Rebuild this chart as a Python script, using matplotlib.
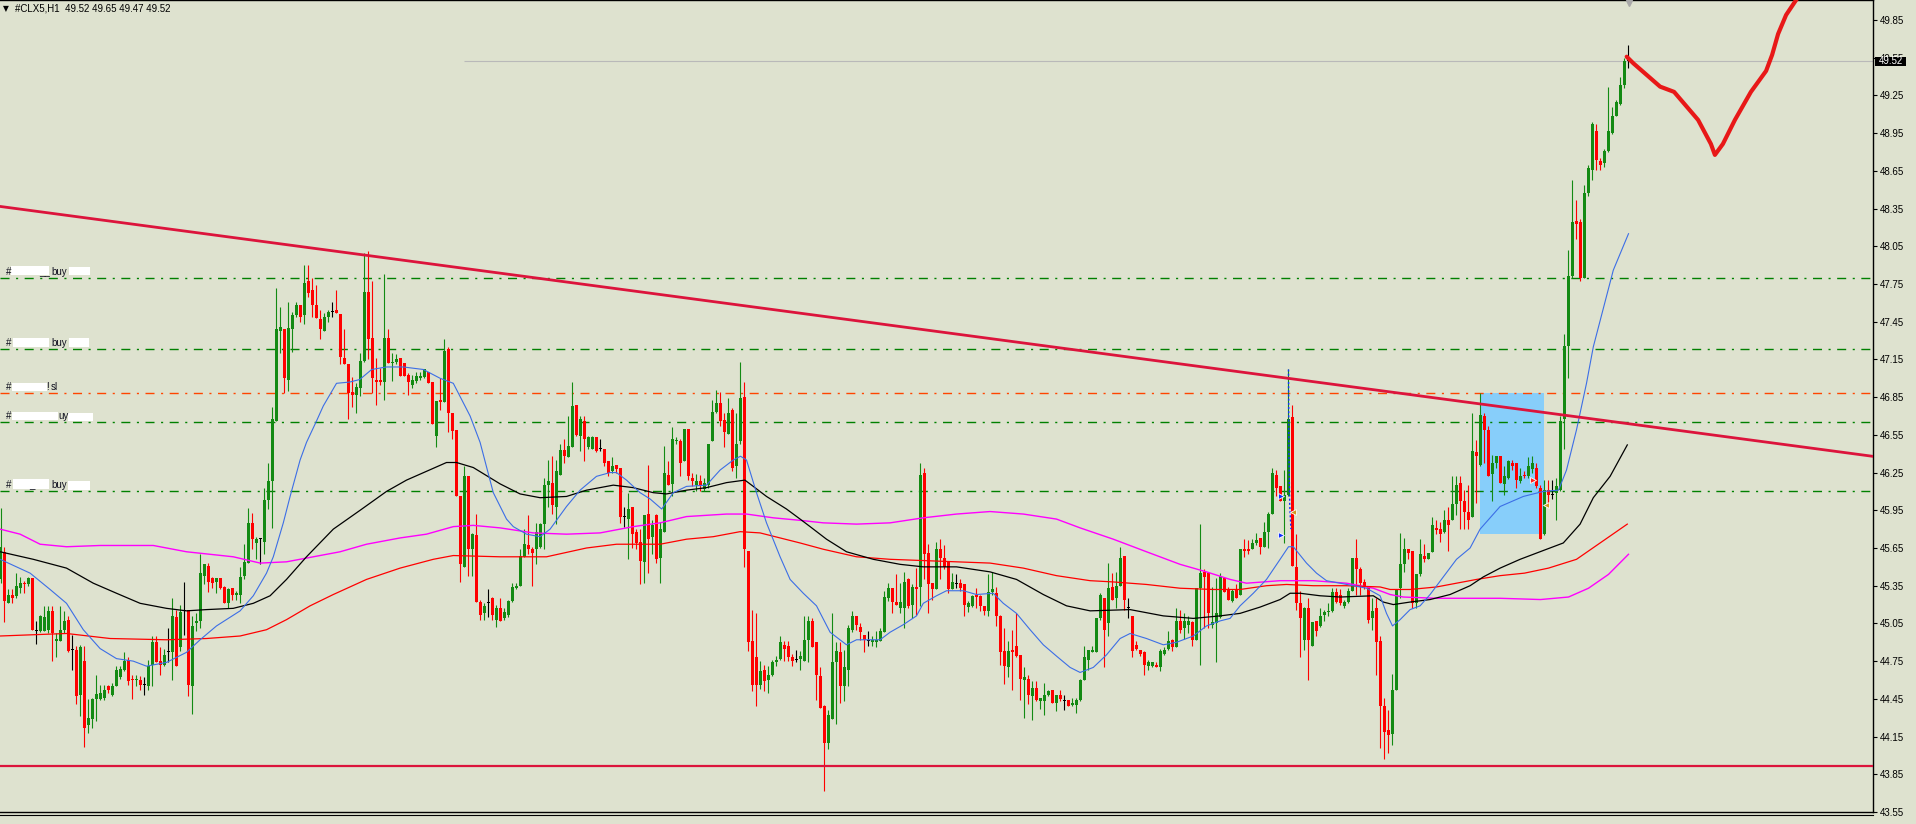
import numpy as np
import matplotlib
matplotlib.use("Agg")
import matplotlib.pyplot as plt
import matplotlib.transforms as mtransforms
from matplotlib.patches import Rectangle

# ---- H1 candles of #CLX5 (index 0 = left edge) ----
opens = [
    45.40, 45.62, 45.21, 45.28, 45.27, 45.33, 45.37, 45.36, 45.41, 44.99,
    44.99, 44.99, 45.00, 45.15, 44.91, 44.91, 45.00, 45.08, 44.84, 44.84,
    44.48, 44.75, 44.24, 44.29, 44.45, 44.45, 44.46, 44.55, 44.48, 44.55,
    44.62, 44.68, 44.76, 44.61, 44.60, 44.60, 44.56, 44.55, 44.72, 44.90,
    44.75, 44.72, 44.82, 44.82, 45.10, 44.86, 45.15, 45.16, 44.55, 45.05,
    45.07, 45.43, 45.51, 45.41, 45.38, 45.41, 45.34, 45.21, 45.33, 45.28,
    45.28, 45.43, 45.53, 45.85, 45.69, 45.72, 45.70, 46.03, 46.18, 46.66,
    47.38, 47.39, 46.99, 47.39, 47.50, 47.58, 47.50, 47.77, 47.70, 47.58,
    47.47, 47.38, 47.49, 47.53, 47.54, 47.51, 47.16, 47.11, 46.89, 46.87,
    46.92, 47.14, 47.69, 47.32, 46.99, 46.99, 46.97, 47.32, 47.12, 47.13,
    47.16, 47.12, 47.03, 46.95, 46.98, 47.00, 47.01, 47.05, 46.97, 46.54,
    46.83, 46.81, 47.23, 46.72, 46.59, 46.06, 45.50, 46.22, 45.64, 45.75,
    45.22, 45.13, 45.21, 45.25, 45.08, 45.17, 45.09, 45.12, 45.23, 45.33,
    45.35, 45.58, 45.67, 45.64, 45.64, 45.66, 45.84, 46.15, 46.17, 45.98,
    46.23, 46.43, 46.37, 46.45, 46.79, 46.54, 46.66, 46.45, 46.44, 46.53,
    46.44, 46.44, 46.34, 46.26, 46.31, 46.29, 45.90, 45.88, 45.98, 45.78,
    45.70, 45.54, 45.92, 45.74, 45.91, 45.57, 45.78, 46.23, 46.16, 46.50,
    46.50, 46.34, 46.60, 46.21, 46.15, 46.18, 46.12, 46.15, 46.50, 46.73,
    46.80, 46.67, 46.56, 46.75, 46.30, 46.50, 46.85, 45.63, 44.91, 44.78,
    44.56, 44.68, 44.60, 44.64, 44.74, 44.77, 44.88, 44.87, 44.78, 44.76,
    44.77, 44.75, 44.92, 45.07, 44.90, 44.63, 44.39, 44.10, 44.29, 44.74,
    44.82, 44.55, 44.68, 45.00, 45.11, 45.02, 44.96, 44.91, 44.90, 44.90,
    44.91, 44.98, 45.25, 45.33, 45.22, 45.17, 45.17, 45.40, 45.20, 45.34,
    45.34, 46.25, 45.61, 45.37, 45.32, 45.64, 45.57, 45.54, 45.32, 45.36,
    45.37, 45.36, 45.18, 45.19, 45.28, 45.27, 45.19, 45.15, 45.30, 45.29,
    45.11, 44.83, 44.70, 44.84, 44.87, 44.80, 44.60, 44.61, 44.47, 44.54,
    44.43, 44.43, 44.48, 44.52, 44.42, 44.48, 44.43, 44.44, 44.40, 44.40,
    44.44, 44.60, 44.76, 44.82, 44.82, 45.09, 45.25, 45.05, 45.34, 45.25,
    45.35, 45.59, 45.17, 45.11, 44.88, 44.84, 44.82, 44.71, 44.71, 44.72,
    44.70, 44.81, 44.85, 44.92, 44.86, 45.07, 45.01, 45.04, 45.06, 44.92,
    45.33, 45.46, 45.45, 45.04, 45.05, 45.10, 45.41, 45.32, 45.23, 45.32,
    45.28, 45.64, 45.64, 45.64, 45.69, 45.73, 45.66, 45.78, 45.92, 46.23,
    46.14, 46.02, 46.07, 46.69, 45.50, 45.21, 44.92, 45.17, 44.87, 45.07,
    45.03, 45.12, 45.14, 45.15, 45.30, 45.28, 45.19, 45.22, 45.31, 45.57,
    45.48, 45.38, 45.35, 45.09, 45.17, 44.91, 44.39, 44.20, 44.17, 44.52,
    45.33, 45.52, 45.64, 45.63, 45.21, 45.44, 45.59, 45.56, 45.62, 45.81,
    45.80, 45.78, 45.87, 45.87, 46.00, 46.17, 46.02, 45.94, 45.90, 46.41,
    46.31, 46.70, 46.59, 46.24, 46.33, 46.38, 46.16, 46.21, 46.33, 46.33,
    46.18, 46.23, 46.22, 46.28, 46.29, 46.13, 45.76, 46.11, 46.07, 46.09,
    46.11, 46.68, 47.26, 47.81, 48.25, 48.24, 47.80, 48.47, 48.66, 48.97,
    48.73, 48.71, 48.81, 48.95, 49.09, 49.18, 49.33, 49.52,
]
highs = [
    45.97, 45.66, 45.32, 45.32, 45.45, 45.42, 45.39, 45.42, 45.41, 45.07,
    45.12, 45.19, 45.19, 45.19, 44.97, 45.19, 45.15, 45.11, 44.96, 44.87,
    44.88, 44.87, 44.45, 44.46, 44.64, 44.56, 44.56, 44.56, 44.58, 44.71,
    44.71, 44.82, 44.78, 44.64, 44.64, 44.63, 44.62, 44.76, 44.95, 44.95,
    44.86, 44.85, 45.01, 45.25, 45.16, 45.20, 45.38, 45.16, 45.11, 45.13,
    45.60, 45.52, 45.53, 45.42, 45.41, 45.41, 45.35, 45.33, 45.33, 45.31,
    45.50, 45.68, 45.97, 45.93, 45.74, 45.73, 46.13, 46.33, 46.77, 47.72,
    47.57, 47.39, 47.61, 47.53, 47.61, 47.58, 47.90, 47.90, 47.80, 47.74,
    47.54, 47.52, 47.54, 47.61, 47.70, 47.51, 47.39, 47.11, 47.01, 46.96,
    47.20, 48.00, 48.01, 47.77, 47.16, 47.08, 47.83, 47.39, 47.20, 47.19,
    47.16, 47.12, 47.04, 47.03, 47.05, 47.05, 47.07, 47.05, 46.97, 46.82,
    47.00, 47.31, 47.25, 46.72, 46.59, 46.06, 46.30, 46.22, 45.77, 45.92,
    45.24, 45.21, 45.32, 45.26, 45.20, 45.25, 45.17, 45.24, 45.37, 45.37,
    45.64, 45.80, 45.91, 45.66, 45.85, 45.85, 46.21, 46.35, 46.38, 46.35,
    46.48, 46.52, 46.70, 46.97, 46.79, 46.70, 46.70, 46.54, 46.54, 46.53,
    46.52, 46.44, 46.34, 46.37, 46.31, 46.29, 45.98, 46.09, 45.98, 45.80,
    45.80, 45.91, 46.31, 45.87, 45.92, 45.86, 46.46, 46.34, 46.61, 46.53,
    46.52, 46.60, 46.60, 46.25, 46.24, 46.23, 46.21, 46.48, 46.83, 46.91,
    46.89, 46.72, 46.84, 46.76, 46.72, 47.13, 46.97, 45.63, 45.16, 45.13,
    44.75, 44.72, 44.71, 44.76, 44.79, 44.95, 44.91, 44.91, 44.81, 44.84,
    44.83, 45.11, 45.11, 45.09, 44.90, 44.70, 44.40, 44.36, 45.13, 44.90,
    44.90, 44.84, 45.04, 45.15, 45.11, 45.05, 44.96, 44.99, 44.95, 44.99,
    45.01, 45.31, 45.37, 45.33, 45.44, 45.37, 45.46, 45.41, 45.36, 45.49,
    46.33, 46.29, 45.68, 45.37, 45.70, 45.72, 45.67, 45.54, 45.45, 45.44,
    45.40, 45.36, 45.23, 45.28, 45.33, 45.28, 45.19, 45.44, 45.46, 45.34,
    45.12, 45.01, 44.91, 45.00, 45.13, 44.80, 44.70, 44.64, 44.59, 44.59,
    44.46, 44.58, 44.52, 44.52, 44.48, 44.52, 44.48, 44.44, 44.46, 44.46,
    44.61, 44.87, 44.84, 44.87, 45.09, 45.29, 45.25, 45.53, 45.45, 45.46,
    45.66, 45.59, 45.25, 45.11, 44.91, 44.84, 44.83, 44.76, 44.74, 44.74,
    44.85, 44.86, 44.99, 44.93, 45.17, 45.16, 45.13, 45.11, 45.07, 45.33,
    45.84, 45.48, 45.45, 45.34, 45.41, 45.45, 45.41, 45.34, 45.32, 45.36,
    45.64, 45.72, 45.71, 45.72, 45.77, 45.73, 45.86, 45.94, 46.29, 46.27,
    46.14, 46.27, 47.07, 46.79, 45.76, 45.31, 45.18, 45.25, 45.06, 45.07,
    45.17, 45.16, 45.21, 45.33, 45.33, 45.32, 45.24, 45.33, 45.57, 45.72,
    45.50, 45.40, 45.35, 45.25, 45.25, 44.95, 44.46, 44.36, 44.65, 45.32,
    45.77, 45.73, 45.64, 45.63, 45.44, 45.72, 45.68, 45.61, 45.90, 45.87,
    45.86, 45.95, 45.98, 46.22, 46.22, 46.22, 46.11, 46.15, 46.72, 46.51,
    46.88, 46.72, 46.62, 46.39, 46.38, 46.38, 46.30, 46.35, 46.35, 46.33,
    46.29, 46.26, 46.37, 46.38, 46.33, 46.15, 46.19, 46.19, 46.19, 46.21,
    46.70, 47.35, 48.02, 48.58, 48.42, 48.27, 48.54, 48.70, 49.04, 49.02,
    48.75, 48.82, 49.32, 49.16, 49.21, 49.40, 49.55, 49.65,
]
lows = [
    45.37, 45.06, 45.21, 45.21, 45.25, 45.29, 45.29, 45.35, 45.00, 44.89,
    44.98, 44.99, 44.97, 44.75, 44.78, 44.91, 44.97, 44.82, 44.68, 44.41,
    44.31, 44.07, 44.18, 44.22, 44.27, 44.44, 44.44, 44.50, 44.47, 44.55,
    44.61, 44.67, 44.56, 44.45, 44.55, 44.52, 44.48, 44.52, 44.55, 44.74,
    44.64, 44.71, 44.74, 44.60, 44.71, 44.83, 44.96, 44.47, 44.33, 44.99,
    45.01, 45.36, 45.30, 45.33, 45.29, 45.32, 45.21, 45.17, 45.24, 45.24,
    45.21, 45.40, 45.53, 45.64, 45.56, 45.52, 45.60, 45.96, 45.81, 46.66,
    47.20, 46.88, 46.90, 47.21, 47.49, 47.45, 47.43, 47.65, 47.49, 47.48,
    47.31, 47.38, 47.45, 47.49, 47.52, 47.11, 47.11, 46.68, 46.77, 46.72,
    46.86, 47.13, 47.15, 46.88, 46.79, 46.95, 46.83, 47.12, 46.98, 47.11,
    47.02, 47.02, 46.87, 46.92, 46.96, 46.99, 47.00, 46.96, 46.64, 46.45,
    46.75, 46.81, 46.57, 46.52, 46.06, 45.38, 45.50, 45.43, 45.43, 45.22,
    45.08, 45.08, 45.10, 45.08, 45.02, 45.07, 45.08, 45.10, 45.22, 45.32,
    45.35, 45.58, 45.60, 45.35, 45.52, 45.65, 45.64, 45.98, 45.92, 45.84,
    46.23, 46.33, 46.37, 46.45, 46.54, 46.42, 46.34, 46.44, 46.44, 46.41,
    46.42, 46.30, 46.22, 46.25, 46.25, 45.85, 45.82, 45.56, 45.65, 45.64,
    45.36, 45.37, 45.45, 45.60, 45.53, 45.37, 45.78, 46.15, 46.06, 46.48,
    46.22, 46.34, 46.19, 46.14, 46.10, 46.10, 46.10, 46.13, 46.50, 46.72,
    46.62, 46.45, 46.56, 46.26, 46.21, 46.48, 45.50, 44.83, 44.51, 44.39,
    44.53, 44.51, 44.50, 44.63, 44.71, 44.76, 44.75, 44.75, 44.71, 44.74,
    44.68, 44.75, 44.74, 44.86, 44.44, 44.38, 43.72, 44.05, 44.29, 44.25,
    44.42, 44.43, 44.55, 44.98, 45.00, 44.92, 44.82, 44.87, 44.87, 44.86,
    44.91, 44.98, 45.23, 45.13, 45.20, 45.13, 45.01, 45.17, 45.09, 45.12,
    45.19, 45.40, 45.13, 45.24, 45.32, 45.40, 45.48, 45.29, 45.32, 45.33,
    45.31, 45.11, 45.14, 45.18, 45.17, 45.15, 45.12, 45.11, 45.28, 45.03,
    44.72, 44.57, 44.62, 44.52, 44.78, 44.44, 44.30, 44.41, 44.28, 44.43,
    44.37, 44.32, 44.47, 44.42, 44.35, 44.43, 44.36, 44.39, 44.39, 44.34,
    44.43, 44.60, 44.68, 44.82, 44.82, 45.08, 44.70, 44.95, 45.24, 45.17,
    45.35, 45.16, 45.09, 44.78, 44.84, 44.79, 44.64, 44.68, 44.70, 44.70,
    44.67, 44.80, 44.84, 44.83, 44.86, 44.97, 44.93, 44.97, 44.87, 44.92,
    44.72, 45.01, 45.01, 45.01, 44.74, 45.09, 45.30, 45.24, 45.22, 45.25,
    45.28, 45.58, 45.60, 45.64, 45.67, 45.60, 45.66, 45.65, 45.92, 46.06,
    46.02, 45.69, 46.06, 45.51, 45.16, 44.78, 44.84, 44.60, 44.87, 44.95,
    45.02, 45.07, 45.11, 45.14, 45.21, 45.20, 45.17, 45.21, 45.31, 45.28,
    45.28, 45.32, 45.05, 45.00, 44.64, 44.06, 43.97, 44.02, 44.08, 44.52,
    45.25, 45.46, 45.56, 45.17, 45.17, 45.43, 45.54, 45.56, 45.62, 45.76,
    45.70, 45.77, 45.63, 45.87, 45.91, 45.80, 45.80, 45.80, 45.90, 46.01,
    46.30, 46.33, 46.22, 46.02, 46.29, 46.17, 46.07, 46.20, 46.27, 46.13,
    46.17, 46.21, 46.21, 46.25, 46.13, 45.72, 45.75, 46.00, 46.04, 45.87,
    46.10, 46.44, 47.00, 47.80, 48.11, 47.77, 47.80, 48.45, 48.58, 48.66,
    48.66, 48.68, 48.80, 48.94, 49.09, 49.17, 49.31, 49.47,
]
closes = [
    45.66, 45.23, 45.28, 45.25, 45.35, 45.37, 45.36, 45.41, 45.00, 44.99,
    45.11, 45.10, 45.15, 44.97, 44.93, 45.00, 45.07, 44.83, 44.84, 44.47,
    44.86, 44.22, 44.30, 44.45, 44.49, 44.50, 44.52, 44.52, 44.55, 44.68,
    44.69, 44.75, 44.59, 44.60, 44.61, 44.56, 44.56, 44.71, 44.90, 44.74,
    44.72, 44.80, 44.82, 45.11, 44.71, 45.14, 45.15, 44.56, 45.03, 45.07,
    45.45, 45.52, 45.38, 45.37, 45.41, 45.33, 45.21, 45.32, 45.28, 45.29,
    45.42, 45.54, 45.85, 45.72, 45.72, 45.72, 46.03, 46.18, 46.68, 47.39,
    47.41, 47.00, 47.40, 47.50, 47.58, 47.49, 47.76, 47.68, 47.58, 47.48,
    47.39, 47.49, 47.53, 47.53, 47.52, 47.17, 47.11, 46.88, 46.87, 46.93,
    47.14, 47.69, 47.31, 47.00, 46.97, 46.97, 47.32, 47.12, 47.13, 47.15,
    47.02, 47.02, 46.97, 46.99, 47.02, 47.02, 47.07, 46.96, 46.64, 46.82,
    46.81, 47.22, 46.72, 46.58, 46.06, 45.52, 46.22, 45.64, 45.76, 45.22,
    45.12, 45.19, 45.21, 45.12, 45.17, 45.07, 45.14, 45.23, 45.34, 45.35,
    45.59, 45.68, 45.64, 45.61, 45.78, 45.84, 46.15, 46.18, 45.99, 46.26,
    46.43, 46.38, 46.46, 46.78, 46.55, 46.68, 46.52, 46.53, 46.53, 46.42,
    46.44, 46.33, 46.25, 46.30, 46.28, 45.90, 45.90, 45.96, 45.76, 45.69,
    45.55, 45.91, 45.72, 45.83, 45.56, 45.80, 46.25, 46.15, 46.52, 46.51,
    46.33, 46.60, 46.22, 46.18, 46.18, 46.14, 46.17, 46.48, 46.73, 46.80,
    46.66, 46.57, 46.72, 46.29, 46.48, 46.84, 45.64, 44.90, 44.56, 44.56,
    44.67, 44.59, 44.64, 44.74, 44.76, 44.90, 44.85, 44.78, 44.75, 44.76,
    44.79, 44.92, 45.07, 44.86, 44.64, 44.38, 44.10, 44.32, 44.74, 44.83,
    44.55, 44.70, 45.01, 45.11, 45.04, 44.98, 44.92, 44.91, 44.92, 44.92,
    44.99, 45.26, 45.33, 45.22, 45.20, 45.22, 45.38, 45.19, 45.34, 45.32,
    46.23, 45.60, 45.36, 45.32, 45.64, 45.57, 45.50, 45.32, 45.38, 45.36,
    45.33, 45.20, 45.21, 45.27, 45.26, 45.19, 45.15, 45.30, 45.32, 45.11,
    44.82, 44.71, 44.83, 44.82, 44.79, 44.61, 44.62, 44.48, 44.54, 44.44,
    44.46, 44.48, 44.51, 44.42, 44.48, 44.45, 44.43, 44.39, 44.42, 44.44,
    44.60, 44.78, 44.84, 44.84, 45.09, 45.28, 45.00, 45.33, 45.24, 45.35,
    45.57, 45.24, 45.17, 44.83, 44.85, 44.81, 44.72, 44.74, 44.74, 44.70,
    44.83, 44.84, 44.91, 44.86, 45.07, 45.00, 45.07, 45.07, 44.92, 45.33,
    45.45, 45.42, 45.13, 45.06, 45.13, 45.43, 45.30, 45.24, 45.31, 45.25,
    45.64, 45.63, 45.63, 45.69, 45.71, 45.66, 45.78, 45.92, 46.25, 46.13,
    46.02, 46.07, 46.68, 45.51, 45.21, 45.09, 45.17, 44.92, 45.06, 44.99,
    45.11, 45.14, 45.15, 45.30, 45.22, 45.21, 45.22, 45.31, 45.57, 45.48,
    45.37, 45.35, 45.08, 45.15, 44.90, 44.39, 44.19, 44.16, 44.52, 45.32,
    45.52, 45.64, 45.61, 45.21, 45.44, 45.60, 45.56, 45.61, 45.83, 45.79,
    45.76, 45.87, 45.83, 46.00, 46.15, 46.02, 45.94, 45.87, 46.42, 46.38,
    46.71, 46.59, 46.22, 46.33, 46.38, 46.17, 46.22, 46.34, 46.30, 46.19,
    46.22, 46.22, 46.30, 46.33, 46.14, 45.72, 46.11, 46.07, 46.07, 46.14,
    46.66, 47.26, 47.81, 48.24, 48.23, 47.80, 48.47, 48.67, 49.02, 48.74,
    48.70, 48.81, 48.97, 49.09, 49.20, 49.33, 49.52, 49.52,
]

# ---- moving averages: (bar index, price) ----
blue_ma = [
    (-0.1, 45.56), (7.4, 45.45), (12.4, 45.32), (16.5, 45.21), (20.7, 45.00),
    (24.9, 44.85), (29.0, 44.77), (33.2, 44.75), (36.5, 44.71), (41.5, 44.74),
    (46.5, 44.82), (49.9, 44.92), (54.0, 45.03), (59.9, 45.15), (63.2, 45.27),
    (66.5, 45.45), (68.2, 45.58), (70.7, 45.85), (72.4, 46.06), (74.9, 46.35),
    (76.5, 46.49), (79.0, 46.66), (80.7, 46.78), (84.0, 46.96), (87.3, 46.97),
    (89.8, 46.99), (92.8, 47.07), (96.5, 47.09), (100.7, 47.09), (105.7, 47.07),
    (109.9, 47.00), (113.2, 46.96), (117.4, 46.70), (119.9, 46.49), (123.2, 46.09),
    (126.5, 45.88), (128.2, 45.82), (131.5, 45.76), (134.9, 45.74), (137.4, 45.80),
    (141.5, 45.98), (144.9, 46.11), (149.0, 46.22), (152.4, 46.25), (154.0, 46.25),
    (156.5, 46.19), (159.9, 46.09), (162.4, 46.04), (165.3, 45.96), (168.2, 46.09),
    (171.5, 46.14), (176.5, 46.15), (179.9, 46.27), (183.2, 46.35), (185.0, 46.38),
    (186.5, 46.35), (189.0, 46.09), (191.5, 45.85), (194.9, 45.58), (197.4, 45.40),
    (200.7, 45.29), (204.0, 45.19), (207.4, 44.98), (211.5, 44.88), (214.0, 44.92),
    (219.9, 44.92), (222.4, 44.98), (225.7, 45.04), (229.0, 45.11), (230.7, 45.21),
    (234.0, 45.27), (236.5, 45.31), (240.7, 45.31), (244.0, 45.28), (248.2, 45.29),
    (250.7, 45.21), (254.0, 45.13), (257.4, 45.00), (260.7, 44.88), (264.0, 44.79),
    (267.4, 44.70), (269.9, 44.66), (273.2, 44.70), (276.5, 44.80), (279.9, 44.93),
    (282.4, 44.97), (286.5, 44.93), (290.7, 44.88), (294.0, 44.90), (298.2, 44.95),
    (301.5, 45.03), (304.9, 45.07), (307.4, 45.09), (309.9, 45.19), (313.2, 45.29),
    (316.5, 45.40), (319.9, 45.56), (322.0, 45.66), (323.2, 45.66), (326.5, 45.53),
    (329.0, 45.45), (331.5, 45.39), (334.9, 45.37), (338.2, 45.35), (341.5, 45.33),
    (344.9, 45.27), (346.5, 45.13), (348.0, 45.03), (349.9, 45.08), (352.4, 45.16),
    (354.9, 45.19), (357.4, 45.28), (360.7, 45.42), (364.0, 45.56), (367.4, 45.65),
    (369.9, 45.80), (374.9, 45.98), (380.7, 46.06), (385.7, 46.10), (389.5, 46.11),
    (391.5, 46.27), (394.0, 46.59), (396.5, 46.96), (398.2, 47.25), (403.2, 47.86),
    (407.0, 48.15),
]
black_ma = [
    (-0.1, 45.62), (8.2, 45.56), (16.5, 45.49), (23.2, 45.37), (29.0, 45.29),
    (34.9, 45.21), (41.5, 45.17), (46.5, 45.15), (51.5, 45.16), (58.2, 45.17),
    (63.2, 45.21), (67.4, 45.27), (71.5, 45.40), (76.5, 45.58), (83.2, 45.80),
    (89.9, 45.95), (96.5, 46.10), (101.5, 46.19), (106.5, 46.26), (111.5, 46.33),
    (114.0, 46.33), (118.2, 46.29), (124.9, 46.16), (129.9, 46.08), (134.9, 46.05),
    (141.5, 46.06), (146.5, 46.11), (153.2, 46.15), (158.2, 46.13), (163.2, 46.09),
    (166.5, 46.08), (171.5, 46.11), (176.5, 46.13), (181.5, 46.17), (186.1, 46.19),
    (188.2, 46.14), (191.5, 46.06), (196.5, 45.96), (199.9, 45.88), (202.4, 45.82),
    (206.5, 45.72), (211.5, 45.62), (218.2, 45.56), (224.9, 45.52), (230.7, 45.50),
    (239.0, 45.50), (247.4, 45.46), (254.0, 45.40), (260.7, 45.28), (266.5, 45.19),
    (272.4, 45.15), (282.4, 45.16), (290.7, 45.11), (298.2, 45.09), (304.9, 45.11),
    (309.9, 45.13), (314.9, 45.18), (319.9, 45.24), (322.4, 45.29), (324.9, 45.29),
    (329.9, 45.27), (334.9, 45.26), (343.2, 45.27), (345.7, 45.22), (348.2, 45.20),
    (352.4, 45.22), (357.4, 45.24), (362.4, 45.28), (367.4, 45.35), (370.7, 45.42),
    (374.9, 45.49), (379.9, 45.56), (385.7, 45.63), (390.7, 45.69), (394.9, 45.84),
    (398.2, 46.05), (402.4, 46.22), (406.7, 46.47),
]
red_ma = [
    (-0.1, 44.95), (16.5, 44.97), (27.4, 44.93), (41.5, 44.92), (51.5, 44.93),
    (59.9, 44.95), (66.5, 45.00), (71.5, 45.08), (77.4, 45.19), (83.2, 45.28),
    (91.5, 45.40), (99.9, 45.49), (108.2, 45.56), (113.2, 45.59), (124.9, 45.58),
    (136.5, 45.58), (146.5, 45.65), (154.0, 45.68), (164.9, 45.68), (171.5, 45.72),
    (178.2, 45.74), (184.9, 45.78), (189.9, 45.77), (194.9, 45.73), (199.9, 45.69),
    (205.7, 45.64), (214.0, 45.58), (222.4, 45.56), (230.7, 45.55), (239.0, 45.54),
    (247.4, 45.53), (255.7, 45.49), (264.0, 45.43), (272.4, 45.39), (278.2, 45.38),
    (286.5, 45.36), (294.9, 45.33), (303.2, 45.32), (309.9, 45.32), (316.5, 45.35),
    (321.5, 45.36), (328.2, 45.35), (336.5, 45.35), (344.9, 45.34), (347.4, 45.32),
    (352.4, 45.32), (359.0, 45.34), (364.0, 45.37), (369.0, 45.40), (374.9, 45.43),
    (381.0, 45.45), (387.0, 45.49), (394.0, 45.56), (399.9, 45.69), (406.7, 45.84),
]
magenta_ma = [
    (-0.1, 45.80), (4.9, 45.76), (9.9, 45.68), (16.5, 45.66), (24.9, 45.67),
    (33.2, 45.67), (38.2, 45.67), (46.5, 45.62), (58.2, 45.58), (64.9, 45.53),
    (71.5, 45.54), (78.2, 45.58), (84.9, 45.62), (91.5, 45.68), (99.9, 45.73),
    (106.5, 45.76), (113.2, 45.82), (118.2, 45.83), (124.9, 45.81), (133.2, 45.77),
    (141.5, 45.76), (149.9, 45.77), (158.2, 45.82), (164.9, 45.85), (171.5, 45.90),
    (181.5, 45.92), (186.5, 45.92), (193.2, 45.89), (199.9, 45.87), (205.7, 45.85),
    (214.0, 45.84), (222.4, 45.85), (230.7, 45.89), (239.0, 45.92), (247.4, 45.94),
    (255.7, 45.92), (264.0, 45.88), (269.9, 45.81), (278.2, 45.72), (286.5, 45.62),
    (294.9, 45.52), (301.5, 45.46), (307.4, 45.40), (311.5, 45.37), (319.9, 45.39),
    (328.2, 45.39), (336.5, 45.37), (343.2, 45.33), (347.4, 45.28), (350.7, 45.26),
    (359.0, 45.25), (367.4, 45.25), (374.9, 45.25), (385.0, 45.24), (392.0, 45.26),
    (397.0, 45.33), (402.0, 45.44), (407.0, 45.60),
]

# ---- horizontal order levels ----
levels = [47.80, 47.23, 46.88, 46.65, 46.10]
level_colors = ["#008000", "#008000", "#ff4500", "#008000", "#008000"]
level_words = [
    [("#", 6), ("__", 39), ("buy", 51)],
    [("#", 6), ("buy", 51)],
    [("#", 6), ("!", 46.5), ("sl", 51)],
    [("#", 6), ("uy", 58)],
    [("#", 6), ("_", 29), ("buy", 51)],
]
# white redaction patches: (left px, width px, bottom/top px above the line)
level_masks = [
    [(11, 38, 2.3, 11.3), (69, 21, 2.3, 10.3)],
    [(13, 36, 2.6, 11.0), (69, 20, 2.6, 11.0)],
    [(12, 35, 2.6, 10.6)],
    [(12, 46, 2.3, 10.6), (68, 25, 1.3, 9.6)],
    [(13, 36, 2.3, 12.3), (68, 22, 1.6, 10.6)],
]

trend_x = [-0.125, 468.125]
trend_y = [48.367, 46.379]
support_level = 43.914
last_price = 49.52
price_line_start = 115.9
header = "#CLX5,H1  49.52 49.65 49.47 49.52"

zone_x = (369.9, 385.9)
zone_y = (45.764, 46.883)

sketch_x = [406.55, 408.2, 411.55, 414.9, 418.4, 424.4, 427.6, 428.6, 430.6,
            433.6, 437.6, 441.4, 442.9, 444.4, 446.4, 448.9, 449.9]
sketch_y = [49.558, 49.506, 49.413, 49.320, 49.278, 49.055, 48.864, 48.777, 48.864,
            49.055, 49.278, 49.445, 49.572, 49.739, 49.890, 50.009, 50.05]

trade_marks = [(320.2, 46.06, ">", "#1030ff"), (320.2, 45.75, ">", "#1030ff"),
               (323.2, 45.94, "<", "#d09a20"), (383.2, 46.19, ">", "#ff2020"),
               (386.3, 45.99, "<", "#d09a20")]
trade_line_x = [322.0, 322.1, 322.3, 322.6]
trade_line_y = [47.07, 46.40, 46.00, 45.80]

# ---- figure ----
W, H = 1916, 824
BG = "#dee2cf"
plt.rcParams["font.family"] = ["Liberation Sans", "DejaVu Sans"]
plt.rcParams["lines.scale_dashes"] = False

fig = plt.figure(figsize=(W / 100, H / 100), dpi=100)
fig.patch.set_facecolor(BG)
ax = fig.add_axes([0, 12 / H, 1873 / W, 812 / H])
ax.set_facecolor(BG)
ax.set_xlim(-0.125, 468.125)
ax.set_ylim(43.554, 50.009)

o = np.array(opens); h = np.array(highs); l = np.array(lows); c = np.array(closes)
x = np.arange(len(c))
cols = np.where(np.isclose(c, o), "#000000", np.where(c > o, "#138a13", "#ff0000"))

ax.add_patch(Rectangle((zone_x[0], zone_y[0]), zone_x[1] - zone_x[0], zone_y[1] - zone_y[0],
                       facecolor="#87cefa", edgecolor="none", zorder=0.5))

dash = (0, (6.5, 4.7, 1.5, 4.7))
for lv, col in zip(levels, level_colors):
    ax.axhline(lv, color=col, lw=1.0, linestyle=dash, zorder=1)
ax.hlines(last_price, price_line_start, 468.125, color="#b9b9b9", lw=0.8, zorder=1)

ax.vlines(x, l, h, colors=cols, lw=0.8, zorder=2)
ax.bar(x, np.maximum(np.abs(c - o), 0.008), bottom=np.minimum(o, c), width=0.75,
       color=cols, linewidth=0, zorder=2.1)

for pts, col, lw in [(magenta_ma, "#ff00ff", 1.0), (red_ma, "#ff0000", 0.9),
                     (black_ma, "#000000", 0.9), (blue_ma, "#3c6ee6", 0.8)]:
    mx, my = zip(*pts)
    ax.plot(mx, my, color=col, lw=lw, zorder=3)

ax.plot(trade_line_x, trade_line_y, color="#1030ff", lw=1.0, linestyle=(0, (1.5, 1.5)), zorder=3.5)
for tx, ty, mk, col in trade_marks:
    ax.plot(tx, ty, marker=mk, color=col, ms=5, mec="white", mew=0.6, zorder=4)

ax.plot(trend_x, trend_y, color="#dc143c", lw=2.0, zorder=4)
ax.axhline(support_level, color="#dc143c", lw=1.6, zorder=4)
ax.plot(sketch_x, sketch_y, color="#e81818", lw=3.0, solid_capstyle="round",
        solid_joinstyle="round", zorder=5)
ax.plot(407.1, 49.985, marker="v", color="#a8a8a8", ms=5, zorder=5, clip_on=False)

# axes / ticks in MT4 style
ax.set_xticks([])
ax.yaxis.tick_right()
ticks = np.round(np.arange(43.55, 49.86, 0.30), 2)
ax.set_yticks(ticks)
ax.set_yticklabels([f"{t:.2f}" for t in ticks])
ax.tick_params(axis="y", direction="out", length=3, width=0.8, pad=2, labelsize=7,
               colors="black")
ax.spines["left"].set_visible(False)
for s in ("top", "right", "bottom"):
    ax.spines[s].set_color("black")
    ax.spines[s].set_linewidth(1.0)
fig.add_artist(plt.Line2D([0, 1873 / W], [1 - 815 / H] * 2, color="black", lw=0.8))

# current price tag
blend = mtransforms.blended_transform_factory(ax.transAxes, ax.transData)
ax.add_patch(Rectangle((1875 / 1873, last_price - 0.038), 31 / 1873, 0.076,
                       transform=blend, facecolor="black", edgecolor="none",
                       clip_on=False, zorder=6))
ax.text(1890.5 / 1873, last_price, f"{last_price:.2f}", transform=blend, ha="center",
        va="center", color="white", fontsize=7, zorder=7, clip_on=False)

# header
fig.text(2.5 / W, 1 - 8.5 / H, "\u25bc", fontsize=5.5, va="center", color="black",
         family=["DejaVu Sans"])
fig.text(15 / W, 1 - 8.5 / H, header, fontsize=7, va="center", color="black")

# order labels above the horizontal levels
ident = mtransforms.IdentityTransform()
for lv, words, masks in zip(levels, level_words, level_masks):
    y0 = ax.transData.transform((0, lv))[1]
    for left, wd, lo, hi in masks:
        fig.add_artist(Rectangle((left, y0 + lo), wd, hi - lo, transform=ident,
                                 facecolor="white", edgecolor="none", zorder=5))
    for txt, left in words:
        fig.text(left / W, (y0 + 3) / H, txt, fontsize=7, va="baseline",
                 color="#101020", zorder=6)

fig.savefig("out.png", dpi=100, facecolor=BG)
